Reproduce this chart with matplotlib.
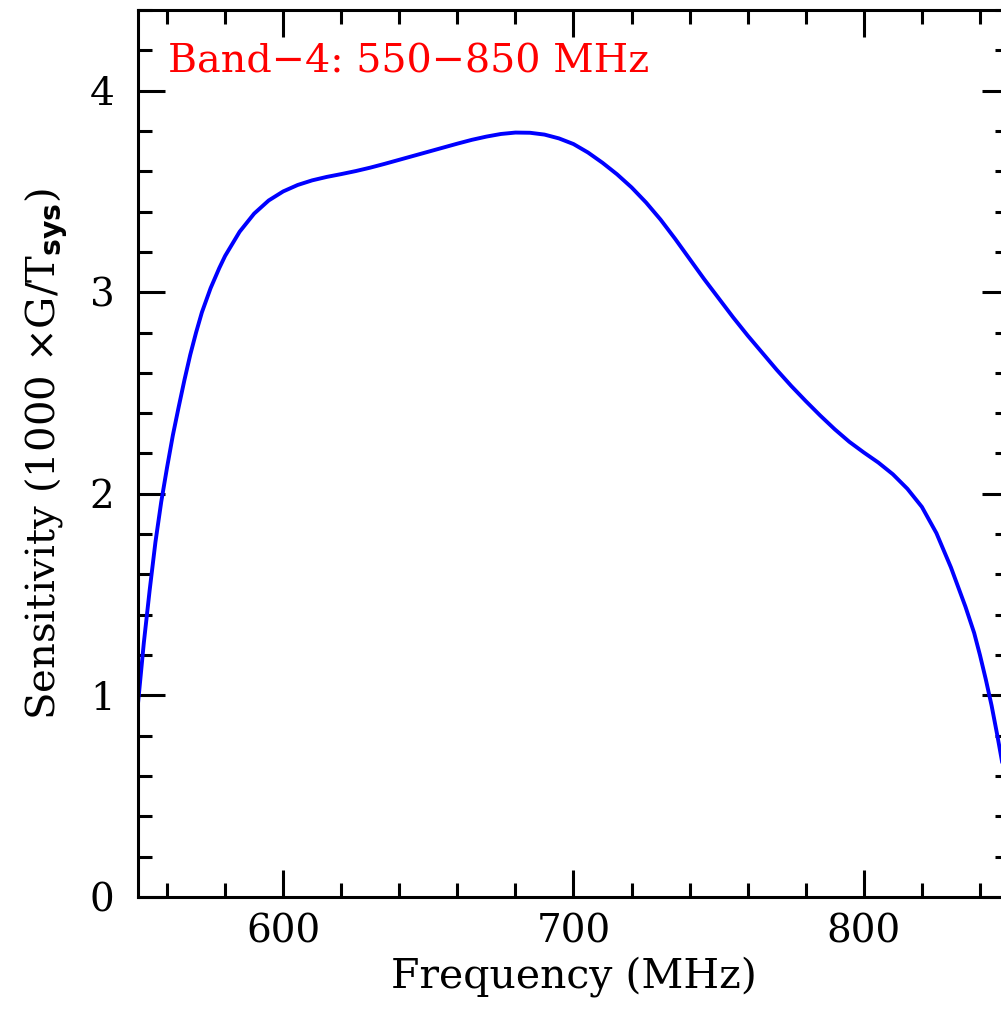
import matplotlib
matplotlib.use("Agg")
import matplotlib.pyplot as plt
import numpy as np
from matplotlib.ticker import MultipleLocator

# GMRT Band-4 sensitivity curve
freq_mhz = [550, 552, 554, 556, 558, 560, 562, 564, 566, 568, 570, 572, 575, 578,
            580, 585, 590, 595, 600, 605, 610, 615, 620, 625, 630, 635, 640, 645,
            650, 655, 660, 665, 670, 675, 680, 685, 690, 695, 700, 705, 710, 715,
            720, 725, 730, 735, 740, 745, 750, 755, 760, 765, 770, 775, 780, 785,
            790, 795, 800, 805, 810, 815, 820, 825, 830, 835, 838, 840, 842, 844,
            846, 848, 850]
sensitivity = [0.96, 1.26, 1.52, 1.76, 1.96, 2.13, 2.29, 2.43, 2.565, 2.69, 2.80, 2.90,
               3.02, 3.12, 3.18, 3.30, 3.39, 3.455, 3.50, 3.532, 3.555, 3.572, 3.586,
               3.601, 3.618, 3.637, 3.657, 3.677, 3.697, 3.717, 3.737, 3.756, 3.772,
               3.785, 3.792, 3.791, 3.782, 3.763, 3.735, 3.693, 3.642, 3.585, 3.52,
               3.445, 3.36, 3.265, 3.165, 3.065, 2.97, 2.875, 2.785, 2.70, 2.615, 2.535,
               2.46, 2.388, 2.32, 2.258, 2.205, 2.155, 2.097, 2.025, 1.935, 1.805, 1.635,
               1.44, 1.31, 1.20, 1.08, 0.95, 0.80, 0.64, 0.47]

band_label = "Band\u22124: 550\u2212850 MHz"

plt.rcParams['font.family'] = ['DejaVu Serif', 'DejaVu Sans']
plt.rcParams['mathtext.fontset'] = 'custom'
plt.rcParams['mathtext.rm'] = 'DejaVu Serif'
plt.rcParams['mathtext.bf'] = 'DejaVu Sans:bold'

fig = plt.figure(figsize=(10.01, 10.11), dpi=100)
ax = fig.add_axes([138 / 1001, 114 / 1011, 871 / 1001, 887 / 1011])

ax.plot(freq_mhz, sensitivity, color='#0000ff', linewidth=2.8)

ax.set_xlim(550, 850)
ax.set_ylim(0, 4.4)
ax.xaxis.set_major_locator(MultipleLocator(100))
ax.xaxis.set_minor_locator(MultipleLocator(20))
ax.yaxis.set_major_locator(MultipleLocator(1))
ax.yaxis.set_minor_locator(MultipleLocator(0.2))

for sp in ax.spines.values():
    sp.set_linewidth(2.2)
ax.tick_params(which='both', direction='in', top=True, right=True, width=2.2,
               labelsize=28)
ax.tick_params(which='major', length=19.5)
ax.tick_params(which='minor', length=10)
ax.tick_params(axis='x', which='major', pad=12)
ax.tick_params(axis='y', which='major', pad=17)

ax.set_xlabel("Frequency (MHz)", fontsize=29.5, labelpad=4)
ax.set_ylabel(r"Sensitivity (1000 $\times$G/T$_{\mathbf{sys}}$)", fontsize=29,
              labelpad=14)

ax.text(0.034, 0.929, band_label, transform=ax.transAxes, color='red',
        fontsize=28.5, va='baseline', ha='left')

fig.savefig("out.png", dpi=100)
